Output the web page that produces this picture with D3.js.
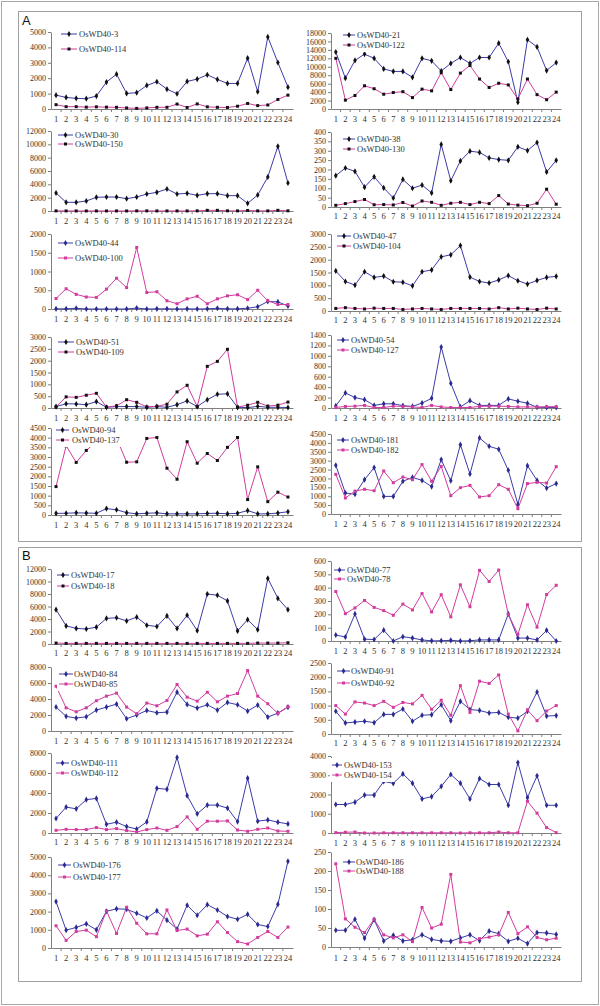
<!DOCTYPE html>
<html><head><meta charset="utf-8">
<script src="https://cdn.jsdelivr.net/npm/d3@7"></script>
<style>body{margin:0;background:#fff} svg{display:block}</style>
</head><body>
<svg id="c" width="600" height="1006"></svg>
<script>
const categories = ["1","2","3","4","5","6","7","8","9","10","11","12","13","14","15","16","17","18","19","20","21","22","23","24"];

// Panel A
const OsWD40_3   = [900,750,690,670,840,1750,2260,1010,1060,1530,1770,1290,990,1790,1940,2220,1920,1660,1660,3300,1120,4680,3020,1420];
const OsWD40_114 = [280,150,150,120,140,120,110,70,40,70,110,110,320,100,330,140,110,100,180,360,220,260,620,900];
const OsWD40_21  = [13500,7300,11500,13000,12000,9500,8900,8900,7500,12000,11400,9000,10800,12200,10800,12200,12200,15600,11200,1600,16400,14700,9100,11000];
const OsWD40_122 = [12000,2100,3200,5500,4800,3500,3900,4100,2700,4700,4300,8600,4600,8500,10300,7100,5100,6100,5700,2400,7100,3400,2200,4000];
const OsWD40_30  = [2700,1300,1300,1500,2050,2100,2100,1850,2100,2550,2800,3300,2550,2650,2350,2600,2600,2300,2300,1150,2400,5100,9700,4200];
const OsWD40_150 = [20,10,10,10,10,10,10,10,20,20,10,10,10,10,20,100,100,30,20,80,20,20,100,30];
const OsWD40_38  = [167,208,190,106,161,102,48,147,100,117,75,334,140,246,298,291,262,253,249,321,301,344,187,249];
const OsWD40_130 = [9,18,29,40,12,13,11,24,5,32,25,9,20,25,13,25,18,61,16,10,7,20,95,15];
const OsWD40_44  = [5,5,20,0,0,0,0,0,25,0,5,5,0,5,0,5,20,5,5,20,60,200,190,80];
const OsWD40_100 = [280,540,390,320,310,530,820,570,1640,440,460,220,140,270,340,140,270,350,380,250,500,220,120,120];
const OsWD40_47  = [1560,1150,1010,1530,1310,1360,1140,1120,980,1530,1600,2110,2190,2550,1320,1150,1090,1210,1380,1180,1050,1190,1310,1350];
const OsWD40_104 = [100,130,100,80,110,100,100,60,80,100,80,60,100,100,100,100,80,130,80,110,80,60,110,80];
const OsWD40_51  = [60,180,170,140,270,30,60,60,60,30,60,30,140,300,60,350,580,600,30,15,70,30,30,20];
const OsWD40_109 = [50,470,450,540,620,40,90,350,240,50,70,160,680,960,60,1760,1970,2480,40,120,240,80,120,250];
const OsWD40_54  = [40,290,200,160,50,80,80,45,30,95,185,1170,475,20,140,50,50,50,175,130,90,15,10,10];
const OsWD40_127 = [10,30,35,50,10,10,35,30,20,10,50,20,10,10,10,30,35,35,30,20,20,20,25,25];
const OsWD40_94  = [85,90,110,100,90,330,270,120,60,90,110,60,60,60,60,80,90,60,90,230,60,60,100,170];
const OsWD40_137 = [1470,3580,2720,3340,3800,3900,3980,2730,2750,3960,4010,2420,1850,3790,2680,3180,2820,3500,4010,800,2490,690,1180,930];
const OsWD40_181 = [2740,1180,1110,1930,2610,990,990,1840,2060,1890,1540,3060,1870,3900,2250,4280,3810,3640,2460,540,2720,1890,1460,1710];
const OsWD40_182 = [2230,900,1290,1390,1310,2420,1760,2080,1930,2780,1840,2680,1030,1480,1610,960,1030,1650,1390,300,1710,1780,1740,2660];

// Panel B
const OsWD40_17  = [5500,2900,2500,2400,2700,4100,4200,3700,4300,3000,2800,4500,2500,4600,2150,8000,7800,6900,2100,3900,2300,10500,7300,5500];
const OsWD40_18  = [150,100,100,100,100,100,100,100,100,100,100,100,100,100,100,100,100,100,100,100,150,150,150,200];
const OsWD40_77  = [45,30,203,14,11,81,0,32,22,8,1,2,5,0,2,8,8,8,203,22,22,8,80,0];
const OsWD40_78  = [371,205,248,304,252,228,193,277,233,356,218,347,181,421,257,530,446,532,200,50,272,104,349,418];
const OsWD40_84  = [3000,1830,1620,1780,2610,2990,3360,1530,2000,2570,2280,2360,4850,3320,2860,3280,2610,3570,3280,2490,3240,1740,2240,2990];
const OsWD40_85  = [5600,2900,2400,2900,3780,4360,4730,2990,2150,3490,3150,3820,5810,4230,3730,4850,3650,4360,4690,7550,4360,3400,2200,3030];
const OsWD40_91  = [800,390,420,450,400,690,690,880,450,660,680,1030,470,1150,860,830,740,760,590,560,800,1480,630,650];
const OsWD40_92  = [1000,700,1130,1090,1000,1150,940,1110,1060,1360,870,1190,660,1700,760,1860,1780,2080,700,110,850,470,810,1000];
const OsWD40_111 = [1450,2590,2420,3330,3460,870,1080,640,400,1110,4470,4370,7560,3730,1920,2790,2790,2490,1140,5480,1180,1310,1080,910];
const OsWD40_112 = [270,370,340,340,540,340,440,240,100,340,500,270,640,1610,370,1180,1180,1210,300,170,370,500,200,170];
const OsWD40_153 = [1480,1480,1600,1970,1970,2680,2580,3070,2590,1770,1890,2420,3040,2590,1770,2830,2520,2520,1440,3660,1840,2970,1440,1440];
const OsWD40_154 = [20,40,50,0,0,10,10,10,10,10,10,10,10,0,10,10,10,50,10,10,1650,1030,280,20];
const OsWD40_176 = [2550,980,1130,1330,1000,2020,2150,2130,1910,1650,2040,1530,1040,2350,1800,2380,2090,1730,1580,1850,1290,1180,2400,4760];
const OsWD40_177 = [1220,420,910,980,620,2040,800,2240,1360,780,780,2090,960,1040,670,760,1440,850,350,220,580,910,580,1150];
const OsWD40_186 = [44,44,73,23,72,16,31,16,19,32,20,16,15,24,32,17,42,35,15,23,9,38,37,33];
const OsWD40_188 = [219,74,52,38,73,32,24,32,14,104,50,60,191,13,11,22,26,32,91,35,53,25,19,23];

const seriesNames = [
  ["OsWD40-3","OsWD40-114"],["OsWD40-21","OsWD40-122"],
  ["OsWD40-30","OsWD40-150"],["OsWD40-38","OsWD40-130"],
  ["OsWD40-44","OsWD40-100"],["OsWD40-47","OsWD40-104"],
  ["OsWD40-51","OsWD40-109"],["OsWD40-54","OsWD40-127"],
  ["OsWD40-94","OsWD40-137"],["OsWD40-181","OsWD40-182"],
  ["OsWD40-17","OsWD40-18"],["OsWD40-77","OsWD40-78"],
  ["OsWD40-84","OsWD40-85"],["OsWD40-91","OsWD40-92"],
  ["OsWD40-111","OsWD40-112"],["OsWD40-153","OsWD40-154"],
  ["OsWD40-176","OsWD40-177"],["OsWD40-186","OsWD40-188"]
];
const seriesValues = [
  [OsWD40_3,OsWD40_114],[OsWD40_21,OsWD40_122],
  [OsWD40_30,OsWD40_150],[OsWD40_38,OsWD40_130],
  [OsWD40_44,OsWD40_100],[OsWD40_47,OsWD40_104],
  [OsWD40_51,OsWD40_109],[OsWD40_54,OsWD40_127],
  [OsWD40_94,OsWD40_137],[OsWD40_181,OsWD40_182],
  [OsWD40_17,OsWD40_18],[OsWD40_77,OsWD40_78],
  [OsWD40_84,OsWD40_85],[OsWD40_91,OsWD40_92],
  [OsWD40_111,OsWD40_112],[OsWD40_153,OsWD40_154],
  [OsWD40_176,OsWD40_177],[OsWD40_186,OsWD40_188]
];
const yMax  = [5000,18000,12000,400,2000,3000,3000,1400,4500,4500,12000,600,8000,2500,8000,4000,5000,250];
const yStep = [1000,2000,2000,50,500,500,500,200,500,500,2000,100,2000,500,2000,1000,1000,50];
const markerMode = ["k","k","k","k","c","k","k","c","k","c","k","c","c","c","c","c","c","c"];

// ---------- layout (positions, not data) ----------
const layout = [
  {s:"L",top:32, zero:109,lab:119,lg:[61,77,79,34,49]},
  {s:"R",top:33, zero:109,lab:119,lg:[343,355,357,35,45]},
  {s:"L",top:131,zero:211,lab:221,lg:[58,73,75,135,144]},
  {s:"R",top:132,zero:207,lab:216,lg:[343,355,357,139,149]},
  {s:"L",top:234,zero:309,lab:319,lg:[58,73,75,243,258]},
  {s:"R",top:234,zero:311,lab:320,lg:[337,351,353,236,246]},
  {s:"L",top:337,zero:408,lab:418,lg:[58,74,76,342,352]},
  {s:"R",top:335,zero:408,lab:418,lg:[337,349,351,340,350]},
  {s:"L",top:428,zero:515,lab:525,lg:[56,69,72,430,440]},
  {s:"R",top:434,zero:514,lab:524,lg:[337,349,351,440,450]},
  {s:"L",top:569,zero:644,lab:653,lg:[57,69,71,575,586]},
  {s:"R",top:561,zero:641,lab:651,lg:[334,345,347,570,579]},
  {s:"L",top:667,zero:731,lab:741,lg:[59,73,74,674,684]},
  {s:"R",top:663,zero:734,lab:743,lg:[337,350,351,671,683]},
  {s:"L",top:753,zero:833,lab:842,lg:[56,69,71,763,773]},
  {s:"R",top:756,zero:833,lab:843,lg:[332,342,344,765,775]},
  {s:"L",top:857,zero:948,lab:958,lg:[58,71,73,865,877]},
  {s:"R",top:852,zero:947,lab:958,lg:[343,355,356,862,871]}
];

const BLUE = "#3c3caa", PINK = "#d23c9e", AXIS = "#7f7f7f", TXT = "#333";
const FONT = "'Liberation Serif', 'DejaVu Serif', serif";

const svg = d3.select("#c");
svg.append("rect").attr("x",1.5).attr("y",1.5).attr("width",597).attr("height",1003)
  .attr("fill","none").attr("stroke","#a8a8a8").attr("stroke-width",1);
svg.append("rect").attr("x",18.5).attr("y",11.5).attr("width",563).attr("height",530)
  .attr("fill","none").attr("stroke","#a0a0a0").attr("stroke-width",1);
svg.append("rect").attr("x",18.5).attr("y",547.5).attr("width",563).attr("height",434)
  .attr("fill","none").attr("stroke","#a0a0a0").attr("stroke-width",1);
svg.append("text").attr("x",22).attr("y",25).text("A")
  .attr("font-family","'Liberation Sans', Arial, sans-serif").attr("font-size",13).attr("fill","#111");
svg.append("text").attr("x",22).attr("y",560).text("B")
  .attr("font-family","'Liberation Sans', Arial, sans-serif").attr("font-size",13).attr("fill","#111");

const diamond = d3.symbol().type(d3.symbolDiamond).size(11);
const square = d3.symbol().type(d3.symbolSquare).size(9);

layout.forEach((L,i) => {
  const [x0,x1] = L.s === "L" ? [51,293] : [331,561];
  const x = d3.scaleBand().domain(categories).range([x0,x1]);
  const cx = c => x(c) + x.bandwidth()/2;
  const y = d3.scaleLinear().domain([0,yMax[i]]).range([L.zero,L.top]);
  const g = svg.append("g");

  // y axis
  const ya = d3.axisLeft(y).tickValues(d3.range(0,yMax[i]+1e-6,yStep[i]))
    .tickSize(3).tickSizeOuter(0).tickPadding(2).tickFormat(d3.format("d"));
  const yg = g.append("g").attr("transform",`translate(${x0},0)`).call(ya);
  yg.select(".domain").attr("stroke",AXIS);
  yg.selectAll(".tick line").attr("stroke",AXIS);
  yg.selectAll("text").attr("font-family",FONT).attr("font-size",8).attr("fill",TXT);

  // x axis
  const xa = d3.axisBottom(x).tickSize(0).tickSizeOuter(0).tickPadding(L.lab - L.zero - 3);
  const xg = g.append("g").attr("transform",`translate(0,${L.zero})`).call(xa);
  xg.select(".domain").attr("stroke",AXIS);
  xg.selectAll("text").attr("font-family",FONT).attr("font-size",8.5).attr("fill",TXT);
  xg.selectAll(".bt").data(categories.slice(1)).enter().append("line").attr("class","bt")
    .attr("x1",c=>x(c)).attr("x2",c=>x(c)).attr("y1",0).attr("y2",3).attr("stroke",AXIS);

  // series
  const cols = [BLUE,PINK];
  const line = d3.line().x((d,j)=>cx(categories[j])).y(d=>y(d));
  [0,1].forEach(k => {
    const vals = seriesValues[i][k];
    g.append("path").datum(vals).attr("d",line).attr("fill","none")
      .attr("stroke",cols[k]).attr("stroke-width",1);
    const mc = markerMode[i] === "k" ? "#111" : (k === 0 ? "#2a2a90" : PINK);
    g.selectAll(".m"+k).data(vals).enter().append("path")
      .attr("d", k === 0 ? diamond : square)
      .attr("transform",(d,j)=>`translate(${cx(categories[j])},${y(d)})`)
      .attr("fill",mc);
  });

  // legend
  const [lx1,lx2,tx,ly1,ly2] = L.lg;
  const lgG = svg.append("g");
  const bg = lgG.append("rect").attr("fill","#fff");
  [0,1].forEach(k => {
    const yy = k === 0 ? ly1 : ly2;
    lgG.append("line").attr("x1",lx1).attr("x2",lx2).attr("y1",yy).attr("y2",yy)
      .attr("stroke",cols[k]).attr("stroke-width",1);
    const mc = markerMode[i] === "k" ? "#111" : (k === 0 ? "#2a2a90" : PINK);
    lgG.append("path").attr("d", k === 0 ? diamond : square)
      .attr("transform",`translate(${(lx1+lx2)/2},${yy})`).attr("fill",mc);
    lgG.append("text").attr("x",tx).attr("y",yy+3).text(seriesNames[i][k])
      .attr("font-family",FONT).attr("font-size",8.5).attr("fill",TXT);
  });
  const bb = lgG.node().getBBox();
  bg.attr("x",bb.x-2).attr("y",bb.y-2).attr("width",bb.width+4).attr("height",bb.height+4);
});
</script>
</body></html>
